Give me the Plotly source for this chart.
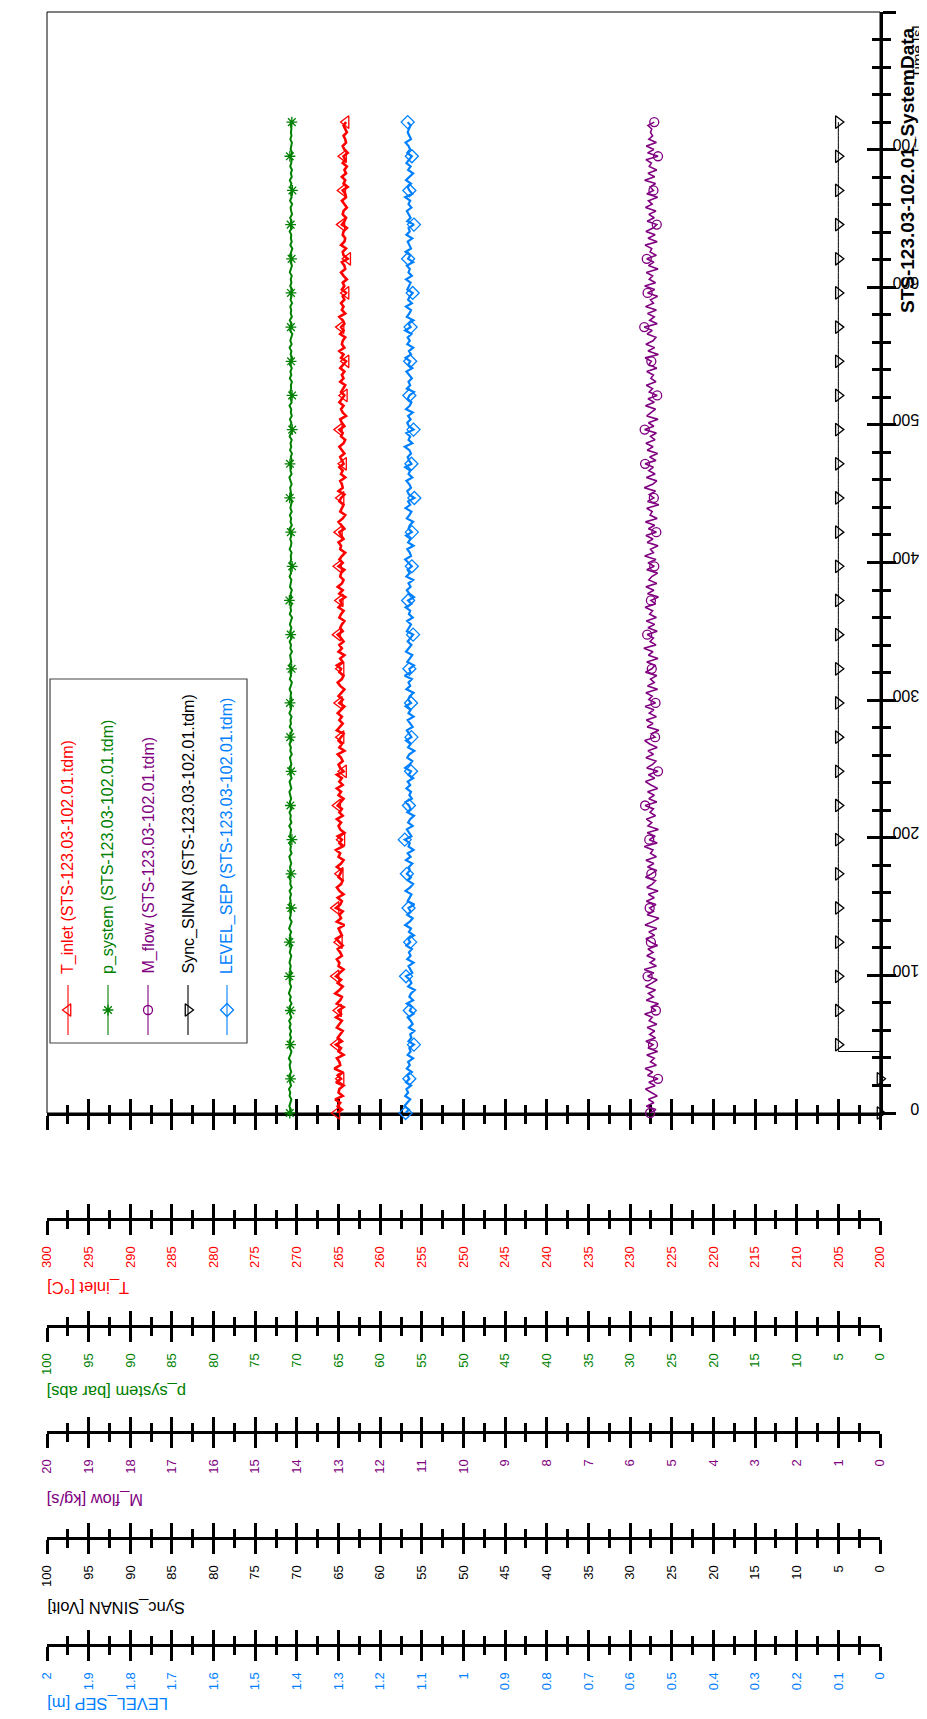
import plotly.graph_objects as go

# ---------------- data ----------------
T_INLET = [
    265.2, 264.6, 265.1, 264.8, 265.4, 264.5, 265.0, 264.9, 264.4, 265.3, 264.7, 265.1, 264.6, 265.5, 264.8, 264.9, 265.2, 264.4, 265.0, 264.7, 265.3, 264.6, 265.1, 264.8,
    264.5, 265.2, 264.9, 264.6, 265.3, 264.7, 265.0, 264.4, 265.2, 264.8, 264.6, 265.4, 264.9, 264.5, 265.1, 264.7, 265.3, 264.8, 264.4, 265.0, 264.9, 265.2, 264.6, 264.8,
    265.1, 264.5, 264.9, 265.3, 264.6, 264.8, 265.0, 264.3, 265.2, 264.7, 264.9, 264.5, 265.3, 264.8, 264.6, 265.1, 264.4, 264.9, 265.2, 264.7, 264.5, 265.0, 264.8, 264.6,
    265.2, 264.7, 264.4, 265.0, 264.8, 265.3, 264.5, 264.9, 264.6, 265.1, 264.3, 264.8, 265.0, 264.7, 265.2, 264.5, 264.9, 264.6, 265.1, 264.8, 264.4, 265.0, 264.7, 265.2,
    264.5, 264.9, 264.6, 265.2, 264.4, 264.8, 265.0, 264.5, 264.7, 265.1, 264.3, 264.9, 264.6, 265.0, 264.7, 264.4, 265.2, 264.8, 264.5, 264.9, 264.6, 265.1, 264.7, 264.3,
    264.9, 264.5, 265.0, 264.7, 264.3, 264.8, 265.1, 264.6, 264.4, 264.9, 264.7, 265.2, 264.5, 264.8, 264.3, 265.0, 264.6, 264.9, 264.4, 264.7, 265.1, 264.5, 264.8, 264.6,
    264.3, 264.9, 264.7, 264.4, 265.0, 264.6, 264.8, 264.2, 264.9, 264.5, 265.1, 264.6, 264.4, 264.8, 264.7, 264.3, 265.0, 264.5, 264.9, 264.6, 264.2, 264.8, 264.7, 265.0,
    264.4, 264.7, 264.9, 264.3, 264.6, 265.0, 264.5, 264.2, 264.8, 264.6, 264.4, 264.9, 264.7, 264.3, 265.0, 264.5, 264.6, 264.8, 264.2, 264.7, 264.5, 264.9, 264.4, 264.6,
    264.8, 264.3, 264.6, 264.9, 264.4, 264.2, 264.7, 264.5, 264.9, 264.3, 264.6, 264.8, 264.1, 264.5, 264.7, 264.4, 264.9, 264.6, 264.3, 264.7, 264.5, 264.2, 264.8, 264.4,
    264.6, 264.3, 264.8, 264.5, 264.1, 264.7, 264.4, 264.9, 264.3, 264.6, 264.5, 264.2, 264.8, 264.4, 264.7, 264.3, 264.5, 264.9, 264.2, 264.6, 264.4, 264.7, 264.3, 264.5,
    264.1, 264.6, 264.3, 264.5, 264.0, 264.4, 264.7, 264.2, 264.3, 264.6, 263.9, 264.4, 264.5, 264.1, 264.7, 264.3, 264.2, 264.5, 264.4, 264.0, 264.6, 264.3, 264.1, 264.5,
    264.4, 264.0, 264.3, 264.6, 264.1, 264.2, 264.5, 263.9, 264.4, 264.2, 264.6, 264.1, 264.3, 264.0, 264.5, 264.2, 264.4, 263.9, 264.3, 264.5, 264.1, 264.2, 264.4, 264.0,
    264.2, 264.4, 264.1,
]

P_SYSTEM = [
    70.85, 70.72, 70.91, 70.78, 70.66, 70.88, 70.80, 70.95, 70.70, 70.83, 70.76, 70.92, 70.68, 70.81, 70.87, 70.74, 70.97, 70.79, 70.65, 70.86, 70.77, 70.90, 70.71, 70.84,
    70.70, 70.88, 70.75, 70.93, 70.67, 70.82, 70.79, 70.90, 70.64, 70.85, 70.73, 70.96, 70.78, 70.69, 70.87, 70.76, 70.91, 70.66, 70.83, 70.74, 70.89, 70.80, 70.68, 70.86,
    70.79, 70.65, 70.90, 70.72, 70.84, 70.69, 70.93, 70.77, 70.63, 70.86, 70.74, 70.81, 70.67, 70.92, 70.75, 70.83, 70.70, 70.88, 70.62, 70.80, 70.76, 70.94, 70.71, 70.78,
    70.82, 70.68, 70.77, 70.91, 70.64, 70.79, 70.72, 70.87, 70.60, 70.83, 70.75, 70.70, 70.92, 70.66, 70.80, 70.73, 70.89, 70.63, 70.78, 70.85, 70.69, 70.76, 70.90, 70.67,
    70.75, 70.88, 70.63, 70.80, 70.70, 70.91, 70.66, 70.77, 70.84, 70.61, 70.79, 70.72, 70.89, 70.65, 70.81, 70.74, 70.58, 70.86, 70.71, 70.78, 70.64, 70.90, 70.73, 70.68,
    70.83, 70.62, 70.76, 70.69, 70.88, 70.73, 70.60, 70.85, 70.70, 70.79, 70.64, 70.92, 70.67, 70.75, 70.81, 70.59, 70.78, 70.71, 70.87, 70.63, 70.74, 70.80, 70.66, 70.84,
    70.72, 70.58, 70.86, 70.70, 70.77, 70.63, 70.90, 70.68, 70.75, 70.61, 70.83, 70.73, 70.66, 70.88, 70.70, 70.79, 70.57, 70.82, 70.69, 70.74, 70.64, 70.87, 70.71, 70.66,
    70.80, 70.65, 70.73, 70.89, 70.60, 70.76, 70.69, 70.84, 70.62, 70.78, 70.71, 70.58, 70.86, 70.67, 70.75, 70.81, 70.63, 70.72, 70.90, 70.64, 70.77, 70.68, 70.83, 70.61,
    70.74, 70.59, 70.82, 70.68, 70.77, 70.62, 70.87, 70.70, 70.56, 70.79, 70.66, 70.84, 70.61, 70.73, 70.68, 70.89, 70.63, 70.76, 70.58, 70.81, 70.69, 70.72, 70.60, 70.85,
    70.67, 70.78, 70.61, 70.84, 70.70, 70.57, 70.75, 70.66, 70.88, 70.63, 70.79, 70.69, 70.55, 70.82, 70.72, 70.64, 70.86, 70.60, 70.74, 70.68, 70.80, 70.58, 70.76, 70.65,
    70.71, 70.56, 70.80, 70.66, 70.74, 70.61, 70.85, 70.68, 70.59, 70.77, 70.64, 70.83, 70.70, 70.55, 70.79, 70.62, 70.73, 70.67, 70.87, 70.60, 70.75, 70.64, 70.81, 70.58,
    70.69, 70.76, 70.57, 70.82, 70.64, 70.71, 70.54, 70.78, 70.66, 70.85, 70.61, 70.73, 70.59, 70.80, 70.68, 70.63, 70.84, 70.56, 70.75, 70.70, 70.60, 70.79, 70.65, 70.72,
    70.66, 70.74, 70.61,
]

M_FLOW = [
    5.52, 5.38, 5.61, 5.43, 5.56, 5.35, 5.49, 5.63, 5.40, 5.55, 5.33, 5.58, 5.46, 5.64, 5.37, 5.51, 5.42, 5.60, 5.34, 5.57, 5.45, 5.62, 5.39, 5.53,
    5.41, 5.59, 5.36, 5.54, 5.47, 5.65, 5.38, 5.50, 5.32, 5.61, 5.44, 5.56, 5.39, 5.63, 5.48, 5.35, 5.58, 5.43, 5.66, 5.37, 5.52, 5.40, 5.60, 5.45,
    5.57, 5.34, 5.50, 5.62, 5.41, 5.55, 5.36, 5.64, 5.46, 5.31, 5.59, 5.44, 5.53, 5.38, 5.61, 5.42, 5.56, 5.33, 5.60, 5.47, 5.39, 5.63, 5.49, 5.36,
    5.58, 5.43, 5.62, 5.37, 5.51, 5.45, 5.66, 5.35, 5.54, 5.40, 5.59, 5.32, 5.57, 5.48, 5.61, 5.39, 5.52, 5.44, 5.64, 5.36, 5.55, 5.42, 5.58, 5.34,
    5.50, 5.63, 5.41, 5.56, 5.33, 5.60, 5.46, 5.38, 5.62, 5.44, 5.57, 5.35, 5.53, 5.65, 5.40, 5.49, 5.31, 5.59, 5.45, 5.61, 5.37, 5.54, 5.43, 5.64,
    5.39, 5.55, 5.47, 5.62, 5.34, 5.58, 5.42, 5.51, 5.36, 5.63, 5.48, 5.40, 5.60, 5.33, 5.56, 5.45, 5.67, 5.38, 5.52, 5.44, 5.59, 5.35, 5.57, 5.41,
    5.61, 5.37, 5.53, 5.46, 5.64, 5.39, 5.50, 5.32, 5.58, 5.43, 5.62, 5.36, 5.55, 5.48, 5.34, 5.60, 5.42, 5.57, 5.38, 5.65, 5.44, 5.51, 5.33, 5.59,
    5.45, 5.62, 5.37, 5.56, 5.41, 5.63, 5.35, 5.52, 5.47, 5.60, 5.31, 5.58, 5.43, 5.54, 5.39, 5.66, 5.46, 5.36, 5.61, 5.40, 5.55, 5.44, 5.64, 5.38,
    5.53, 5.34, 5.59, 5.45, 5.62, 5.40, 5.51, 5.37, 5.65, 5.43, 5.56, 5.33, 5.60, 5.48, 5.39, 5.63, 5.42, 5.57, 5.35, 5.54, 5.46, 5.61, 5.38, 5.50,
    5.44, 5.60, 5.36, 5.55, 5.49, 5.64, 5.32, 5.57, 5.41, 5.62, 5.45, 5.38, 5.59, 5.47, 5.66, 5.35, 5.53, 5.42, 5.58, 5.37, 5.63, 5.44, 5.51, 5.34,
    5.58, 5.41, 5.65, 5.39, 5.54, 5.46, 5.61, 5.33, 5.56, 5.43, 5.60, 5.37, 5.52, 5.48, 5.64, 5.35, 5.57, 5.40, 5.62, 5.45, 5.36, 5.59, 5.42, 5.55,
    5.38, 5.63, 5.47, 5.56, 5.34, 5.60, 5.44, 5.52, 5.39, 5.65, 5.41, 5.57, 5.36, 5.54, 5.49, 5.62, 5.33, 5.58, 5.43, 5.61, 5.37, 5.55, 5.46, 5.51,
    5.48, 5.57, 5.42,
]

LEVEL_SEP = [
    1.139, 1.131, 1.142, 1.134, 1.128, 1.140, 1.133, 1.137, 1.126, 1.138, 1.130, 1.135, 1.124, 1.136, 1.129, 1.133, 1.121, 1.134, 1.127, 1.130, 1.119, 1.132, 1.125, 1.128,
    1.118, 1.131, 1.122, 1.127, 1.134, 1.120, 1.129, 1.124, 1.136, 1.121, 1.130, 1.126, 1.117, 1.133, 1.125, 1.129, 1.138, 1.123, 1.128, 1.132, 1.120, 1.135, 1.127, 1.131,
    1.124, 1.137, 1.128, 1.133, 1.119, 1.131, 1.126, 1.140, 1.129, 1.122, 1.135, 1.127, 1.132, 1.118, 1.134, 1.130, 1.125, 1.139, 1.128, 1.121, 1.133, 1.126, 1.136, 1.129,
    1.131, 1.123, 1.138, 1.127, 1.134, 1.120, 1.132, 1.129, 1.141, 1.125, 1.130, 1.136, 1.122, 1.133, 1.128, 1.119, 1.135, 1.127, 1.131, 1.139, 1.124, 1.130, 1.126, 1.137,
    1.128, 1.134, 1.121, 1.132, 1.126, 1.140, 1.129, 1.123, 1.135, 1.130, 1.118, 1.133, 1.127, 1.138, 1.125, 1.131, 1.136, 1.122, 1.129, 1.134, 1.120, 1.132, 1.127, 1.139,
    1.126, 1.133, 1.129, 1.120, 1.137, 1.128, 1.132, 1.124, 1.141, 1.127, 1.130, 1.119, 1.135, 1.129, 1.123, 1.138, 1.131, 1.125, 1.134, 1.128, 1.121, 1.136, 1.130, 1.126,
    1.135, 1.122, 1.131, 1.128, 1.139, 1.125, 1.133, 1.119, 1.130, 1.136, 1.127, 1.132, 1.121, 1.137, 1.129, 1.134, 1.124, 1.131, 1.140, 1.126, 1.129, 1.135, 1.120, 1.133,
    1.127, 1.138, 1.124, 1.132, 1.129, 1.121, 1.136, 1.130, 1.125, 1.139, 1.128, 1.133, 1.118, 1.131, 1.135, 1.126, 1.130, 1.137, 1.123, 1.132, 1.128, 1.140, 1.125, 1.131,
    1.134, 1.126, 1.130, 1.141, 1.123, 1.132, 1.128, 1.137, 1.120, 1.131, 1.135, 1.127, 1.133, 1.122, 1.138, 1.129, 1.125, 1.134, 1.130, 1.119, 1.136, 1.128, 1.132, 1.124,
    1.130, 1.137, 1.123, 1.133, 1.128, 1.139, 1.126, 1.131, 1.121, 1.135, 1.129, 1.134, 1.125, 1.140, 1.127, 1.132, 1.120, 1.136, 1.130, 1.126, 1.138, 1.124, 1.133, 1.129,
    1.122, 1.135, 1.131, 1.127, 1.138, 1.124, 1.132, 1.129, 1.136, 1.121, 1.133, 1.128, 1.139, 1.126, 1.130, 1.134, 1.123, 1.137, 1.129, 1.132, 1.119, 1.135, 1.127, 1.131,
    1.136, 1.125, 1.132, 1.128, 1.140, 1.123, 1.130, 1.134, 1.126, 1.138, 1.129, 1.121, 1.133, 1.127, 1.137, 1.131, 1.124, 1.135, 1.128, 1.132, 1.139, 1.126, 1.130, 1.134,
    1.131, 1.127, 1.134,
]

# step signal: 0 V until ~45 s, 5 V afterwards
SYNC_SINAN = [0.0] * 18 + [5.0] * 273

DURATION_S = 720.0
N = len(T_INLET)
TIME_S = [k * DURATION_S / (N - 1) for k in range(N)]
MARKER_IDX = list(range(0, N, 10))

SOURCE = " (STS-123.03-102.01.tdm)"
RED, GREEN, PURPLE, BLACK, BLUE = "#FF0000", "#008000", "#800080", "#000000", "#0080FF"
FONT = "Liberation Sans, Arial, sans-serif"

# ---------------- geometry (screen pixels) ----------------
BODY_OFFSET = 8            # default page margin around the plot div
SCREEN_W, SCREEN_H = 927, 1719
W, H = SCREEN_W - BODY_OFFSET, SCREEN_H - BODY_OFFSET
PLOT_LEFT, PLOT_RIGHT, PLOT_TOP, PLOT_BOTTOM = 47, 880, 12, 1113
STACK_BOTTOM = 1645
ML = PLOT_LEFT - BODY_OFFSET
MT = PLOT_TOP - BODY_OFFSET
MR = W - (PLOT_RIGHT - BODY_OFFSET)
MB = H - (STACK_BOTTOM - BODY_OFFSET)


def paper_x(sx):
    return (sx - PLOT_LEFT) / (PLOT_RIGHT - PLOT_LEFT)


def paper_y(sy):
    return (STACK_BOTTOM - sy) / (STACK_BOTTOM - PLOT_TOP)


# name, values, colour, symbol, size, line width, axis title, range, dtick, axis y, title y
SERIES = [
    ("T_inlet", T_INLET, RED, "triangle-left-open", 11, 2.6, "T_inlet [°C]", (300, 200), 5, 1219, 1288),
    ("p_system", P_SYSTEM, GREEN, "asterisk-open", 9, 2.0, "p_system [bar abs]", (100, 0), 5, 1326, 1392),
    ("M_flow", M_FLOW, PURPLE, "circle-open", 9, 1.6, "M_flow [kg/s]", (20, 0), 1, 1432, 1500),
    ("Sync_SINAN", SYNC_SINAN, BLACK, "triangle-right-open", 11, 1.0, "Sync_SINAN [Volt]", (100, 0), 5, 1538, 1608),
    ("LEVEL_SEP", LEVEL_SEP, BLUE, "diamond-open", 10, 2.2, "LEVEL_SEP [m]", (2, 0), 0.1, 1645, 1703),
]

fig = go.Figure()
layout = dict(
    width=W, height=H,
    margin=dict(l=ML, r=MR, t=MT, b=MB, pad=0, autoexpand=False),
    paper_bgcolor="white", plot_bgcolor="rgba(0,0,0,0)",
    showlegend=False, hovermode=False,
    font=dict(family=FONT, size=13, color="black"),
)

tick_common = dict(tickwidth=2.5, tickcolor="black", showline=True, linewidth=3, linecolor="black",
                   showgrid=False, zeroline=False, fixedrange=True, automargin=False)

# bottom frame of the plot (cross ticks, no labels)
for ax_name, tk in (("xaxis", "outside"), ("xaxis2", "inside")):
    d = dict(domain=[0, 1], anchor="y", range=[300, 200], tick0=0, dtick=5, ticks=tk, ticklen=14,
             showticklabels=False,
             minor=dict(dtick=2.5, ticks=tk, ticklen=8, tickwidth=2.5, tickcolor="black", showgrid=False),
             **tick_common)
    if ax_name != "xaxis":
        d["overlaying"] = "x"
    layout[ax_name] = d
fig.add_trace(go.Scatter(x=[], y=[], xaxis="x2", yaxis="y", hoverinfo="skip"))

# time axis on the right (cross ticks, upside-down labels)
ydom = [paper_y(PLOT_BOTTOM), 1]
for ax_name, tk in (("yaxis", "outside"), ("yaxis2", "inside")):
    d = dict(domain=ydom, anchor="x", side="right", range=[0, 800], tick0=0, dtick=100, ticks=tk, ticklen=13,
             showticklabels=(tk == "outside"), tickangle=180, ticklabelstandoff=20,
             tickfont=dict(family=FONT, size=16, color="black"),
             minor=dict(dtick=20, ticks=tk, ticklen=8, tickwidth=2.5, tickcolor="black", showgrid=False),
             **tick_common)
    if ax_name != "yaxis":
        d["overlaying"] = "y"
    layout[ax_name] = d
fig.add_trace(go.Scatter(x=[], y=[], xaxis="x", yaxis="y2", hoverinfo="skip"))

annotations = []
ax_num = 3
for name, vals, color, symbol, msize, lw, title, rng, dtick, axis_sy, title_sy in SERIES:
    pos = paper_y(axis_sy)
    main_ax = f"x{ax_num}"
    for k, tk in enumerate(("outside", "inside")):
        layout[f"xaxis{ax_num + k}"] = dict(
            domain=[0, 1], anchor="free", overlaying="x", position=pos, side="bottom",
            range=list(rng), tick0=0, dtick=dtick, ticks=tk, ticklen=14,
            showticklabels=(tk == "outside"), tickangle=-90, ticklabelstandoff=6,
            tickfont=dict(family=FONT, size=13, color=color),
            minor=dict(dtick=dtick / 2, ticks=tk, ticklen=8, tickwidth=2.5, tickcolor="black", showgrid=False),
            **tick_common)
    fig.add_trace(go.Scatter(x=[], y=[], xaxis=f"x{ax_num + 1}", yaxis="y", hoverinfo="skip"))
    # data line
    fig.add_trace(go.Scatter(
        x=vals, y=TIME_S, xaxis=main_ax, yaxis="y", mode="lines",
        line=dict(color=color, width=lw, shape="vh" if name == "Sync_SINAN" else "linear"),
        hoverinfo="skip"))
    # markers
    fig.add_trace(go.Scatter(
        x=[vals[i] for i in MARKER_IDX], y=[TIME_S[i] for i in MARKER_IDX],
        xaxis=main_ax, yaxis="y", mode="markers", cliponaxis=False,
        marker=dict(symbol=symbol, size=msize, color=color, line=dict(color=color, width=1.3)),
        hoverinfo="skip"))
    annotations.append(dict(text=title, x=paper_x(45), y=paper_y(title_sy), xref="paper", yref="paper",
                            xanchor="left", yanchor="middle", textangle=180, showarrow=False,
                            font=dict(family=FONT, size=16.5, color=color)))
    ax_num += 2

# screen-pixel helper axes for the legend glyphs
layout["xaxis13"] = dict(domain=[0, 1], anchor="y3", range=[PLOT_LEFT, PLOT_RIGHT], visible=False,
                         fixedrange=True, automargin=False)
layout["yaxis3"] = dict(domain=[0, 1], anchor="x13", range=[STACK_BOTTOM, PLOT_TOP], visible=False,
                        fixedrange=True, automargin=False)

shapes = [
    dict(type="rect", xref="paper", yref="paper", x0=0, x1=1, y0=paper_y(PLOT_BOTTOM), y1=1,
         line=dict(color="black", width=1), layer="below"),
    dict(type="rect", xref="paper", yref="paper", x0=paper_x(50), x1=paper_x(247),
         y0=paper_y(1043), y1=paper_y(679),
         line=dict(color="#444444", width=1.2), fillcolor="white", layer="below"),
]

LEGEND_X = [68, 108, 148, 188, 227]
for (name, vals, color, symbol, msize, lw, *_), lx in zip(SERIES, LEGEND_X):
    shapes.append(dict(type="line", xref="paper", yref="paper", x0=paper_x(lx), x1=paper_x(lx),
                       y0=paper_y(1035), y1=paper_y(985), line=dict(color=color, width=1.1)))
    fig.add_trace(go.Scatter(x=[lx], y=[1010], xaxis="x13", yaxis="y3", mode="markers",
                             marker=dict(symbol=symbol, size=msize, color=color,
                                         line=dict(color=color, width=1.3)), hoverinfo="skip"))
    annotations.append(dict(text=name + SOURCE, x=paper_x(lx), y=paper_y(976), xref="paper", yref="paper",
                            xanchor="center", yanchor="bottom", textangle=-90, showarrow=False,
                            font=dict(family=FONT, size=16, color=color)))

annotations.append(dict(text="Time [s]", x=paper_x(918), y=paper_y(52), xref="paper", yref="paper",
                        xanchor="center", yanchor="middle", textangle=-90, showarrow=False,
                        font=dict(family=FONT, size=15, color="black")))
annotations.append(dict(text="<b>STS-123.03-102.01_SystemData</b>", x=paper_x(907), y=paper_y(170),
                        xref="paper", yref="paper", xanchor="center", yanchor="middle", textangle=-90,
                        showarrow=False, font=dict(family=FONT, size=19, color="black")))

layout["shapes"] = shapes
layout["annotations"] = annotations
fig.update_layout(**layout)
fig.write_html("out.html")
